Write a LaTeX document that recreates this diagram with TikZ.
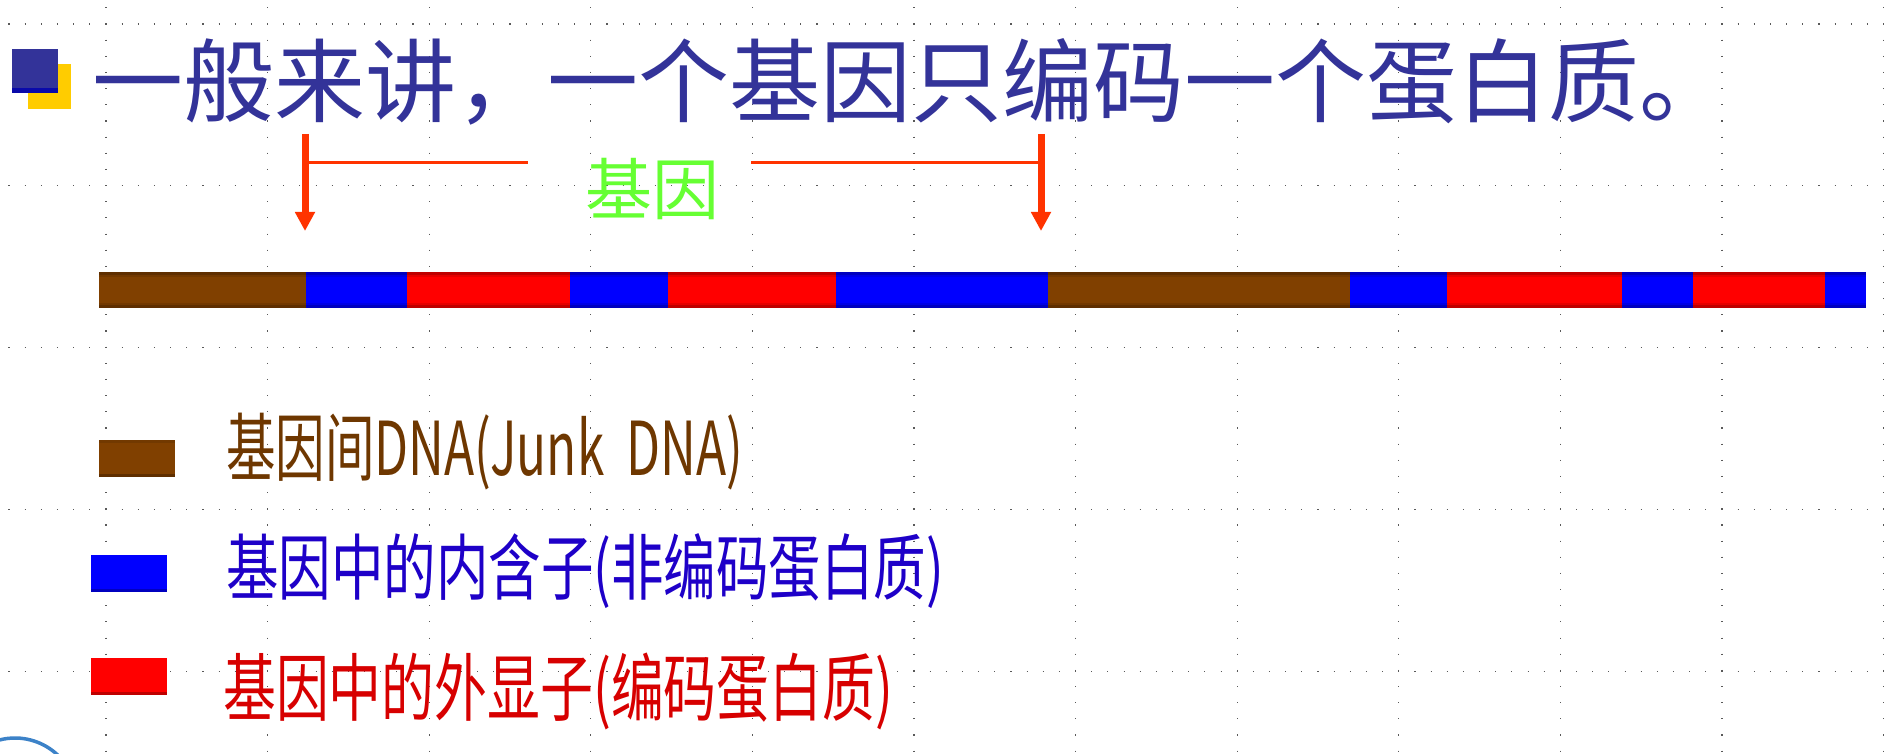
\documentclass[tikz,border=0pt]{standalone}
\usepackage{fontspec}
\usepackage{graphicx}
\newfontfamily\cjk{Noto Sans CJK SC}
\usetikzlibrary{arrows.meta}
\definecolor{titleblue}{RGB}{51,51,153}
\definecolor{bulletedge}{RGB}{10,10,170}
\definecolor{bulletyellow}{RGB}{255,204,0}
\definecolor{arrowred}{RGB}{255,51,0}
\definecolor{genegreen}{RGB}{102,255,51}
\definecolor{junkbrown}{RGB}{128,64,0}
\definecolor{intronblue}{RGB}{0,0,255}
\definecolor{exonred}{RGB}{255,0,0}
\definecolor{legbrown}{RGB}{110,55,0}
\definecolor{legblue}{RGB}{30,0,200}
\definecolor{legred}{RGB}{215,0,0}
\definecolor{logoblue}{RGB}{60,130,200}
\begin{document}
\begin{tikzpicture}[x=1pt,y=-1pt,
  gridline/.style={black!65, line width=1.1pt, dash pattern=on 1.1pt off 15.06pt},
  pointer/.style={draw=arrowred, line width=7pt, -{Triangle[width=19pt,length=19pt]}},
  spanline/.style={draw=arrowred, line width=3pt},
  swatch/.style={inner sep=0pt, minimum width=76pt, minimum height=37pt},
  legtext/.style={anchor=north west, inner sep=0pt},
  edgeshade/.style={fill=black, opacity=0.25},
  edgesoft/.style={fill=black, opacity=0.1}
]
% canvas
\fill[white] (0,0) rectangle (1893,754);
\useasboundingbox (0,0) rectangle (1893,754);

% dotted background grid
\foreach \k in {0,...,4} {
  \draw[gridline] (-7.67,24+161.8*\k) -- (1900,24+161.8*\k);
}
\foreach \k in {0,...,11} {
  \draw[gridline] (106+161.6*\k,-8.87) -- (106+161.6*\k,760);
}

% bullet
\fill[bulletyellow] (28,64) rectangle (71,109);
\fill[titleblue] (12,49) rectangle (58,93);
\fill[bulletedge] (12,88) rectangle (58,93);

% title
\node[anchor=base west, inner sep=0pt, text=titleblue,
      font={\cjk\fontsize{91pt}{91pt}\selectfont}] (title) at (92,116)
      {一般来讲，一个基因只编码一个蛋白质。};

% gene label
\node[anchor=base west, inner sep=0pt, text=genegreen,
      font={\cjk\fontsize{67pt}{67pt}\selectfont}] (gene) at (585,215) {基因};

% DNA bar
\foreach \a/\b/\c in {99/306/junkbrown, 306/407/intronblue, 407/570/exonred,
  570/668/intronblue, 668/836/exonred, 836/1048/intronblue, 1048/1350/junkbrown,
  1350/1447/intronblue, 1447/1622/exonred, 1622/1693/intronblue,
  1693/1825/exonred, 1825/1866/intronblue} {
  \fill[\c] (\a,272) rectangle (\b,308);
}
\fill[edgeshade] (99,272) rectangle (1866,275);
\fill[edgesoft] (99,275) rectangle (1866,277);
\fill[edgeshade] (99,305) rectangle (1866,308);
\fill[edgesoft] (99,303) rectangle (1866,305);

% arrows marking the gene
\coordinate (a1top) at (305,134);
\coordinate (a1tip) at (305,231);
\coordinate (a2top) at (1041,134);
\coordinate (a2tip) at (1041,231);
\coordinate (h1end) at (528,163);
\coordinate (h2start) at (751,163);
\draw[pointer] (a1top) -- (a1tip);
\draw[pointer] (a2top) -- (a2tip);
\draw[spanline] (a1top |- h1end) -- (h1end);
\draw[spanline] (h2start) -- (a2top |- h2start);

% legend swatches
\node[swatch, fill=junkbrown] (sw1) at (137,458.5) {};
\node[swatch, fill=intronblue] (sw2) at (129,573) {};
\node[swatch, fill=exonred] (sw3) at (129,676) {};
\fill[edgesoft] (sw1.north west) rectangle ([yshift=-3pt]sw1.north east);
\fill[edgeshade] ([yshift=3pt]sw1.south west) rectangle (sw1.south east);
\fill[edgeshade] ([yshift=3pt]sw2.south west) rectangle (sw2.south east);
\fill[edgeshade] ([yshift=3pt]sw3.south west) rectangle (sw3.south east);

% legend texts
\node[legtext, text=legbrown] (t1) at (226,413)
  {\resizebox*{517pt}{77pt}{\cjk 基因间DNA(Junk\ \ DNA)}};
\node[legtext, text=legblue] (t2) at (226,533)
  {\resizebox*{718pt}{75pt}{\cjk 基因中的内含子(非编码蛋白质)}};
\node[legtext, text=legred] (t3) at (223,653)
  {\resizebox*{670pt}{77pt}{\cjk 基因中的外显子(编码蛋白质)}};

% partial logo at bottom left
\draw[logoblue, line width=3.5pt] ([shift={(215:62)}]15,800) arc (215:325:62);
\end{tikzpicture}
\end{document}
